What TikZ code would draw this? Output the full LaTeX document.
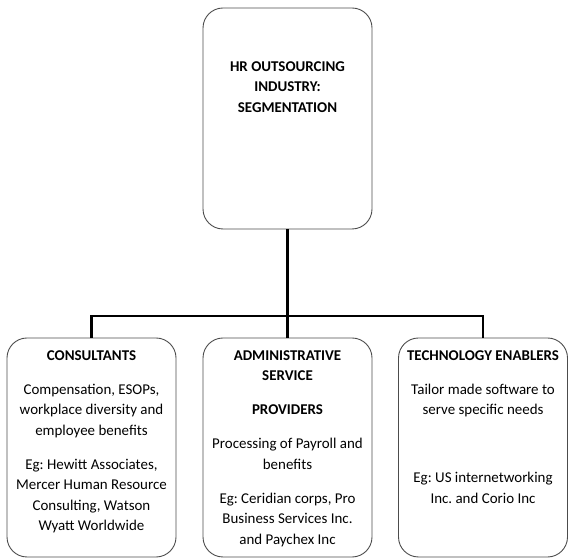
\documentclass[tikz,border=0pt]{standalone}
\usepackage{fontspec}
\setmainfont{Carlito}
\usepackage{tikz}
\usetikzlibrary{positioning}
\frenchspacing

\begin{document}
\begin{tikzpicture}[x=1bp, y=1bp,
    segbox/.style={draw=black!70, line width=0.9pt, rounded corners=20bp, minimum width=169bp},
    segtext/.style={inner sep=0pt, align=center, font=\fontsize{15}{20.5}\selectfont},
    conn/.style={black, line width=2.6bp}]

            \useasboundingbox (0,0) rectangle (577,558);

            \node[segbox, minimum height=221bp] (hr) at (287.5,439.5) {};
            \node[segbox, minimum height=219bp] (cons) at (91.5,110.5) {};
            \node[segbox, minimum height=219bp] (admin) at (287.5,110.5) {};
            \node[segbox, minimum height=219bp] (tech) at (483,110.5) {};

            \node[segtext, font=\fontsize{15}{20.5}\selectfont\bfseries, below=54bp of hr.north] (hrtext)
                {HR OUTSOURCING\\INDUSTRY:\\SEGMENTATION};
            \node[segtext, below=13bp of cons.north] (constext)
                {\textbf{CONSULTANTS}\\[13.5bp]
                 Compensation, ESOPs,\\workplace diversity and\\employee benefits\\[13.5bp]
                 Eg: Hewitt Associates,\\Mercer Human Resource\\Consulting, Watson\\Wyatt Worldwide};
            \node[segtext, below=13bp of admin.north] (admintext)
                {\textbf{ADMINISTRATIVE}\\\textbf{SERVICE}\\[13.5bp]
                 \textbf{PROVIDERS}\\[13.5bp]
                 Processing of Payroll and\\benefits\\[13.5bp]
                 Eg: Ceridian corps, Pro\\Business Services Inc.\\and Paychex Inc};
            \node[segtext, below=13bp of tech.north] (techtext)
                {\textbf{TECHNOLOGY ENABLERS}\\[13.5bp]
                 Tailor made software to\\serve specific needs\\[47.5bp]
                 Eg: US internetworking\\Inc. and Corio Inc};

            \coordinate (bus) at (287.5,242);
            \draw[conn] (hr.south) -- (bus);
            \draw[conn] (bus) -| (cons.north);
            \draw[conn] (bus) -- (admin.north);
            \draw[conn] (bus) -| (tech.north);

\end{tikzpicture}
\end{document}
